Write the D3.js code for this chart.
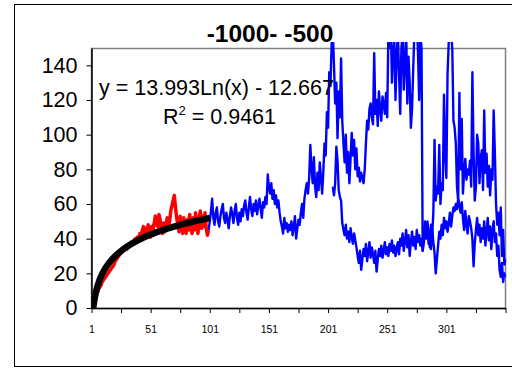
<!DOCTYPE html>
<html>
<head>
<meta charset="utf-8">
<script src="https://cdn.jsdelivr.net/npm/d3@7"></script>
<style>
  html, body { margin: 0; padding: 0; background: #fff; }
  svg { display: block; }
</style>
</head>
<body>
<svg id="chart" width="512" height="368"></svg>
<script>
// ---- data ----
const title = "-1000- -500";
const categoryCount = 351;
const xTickValues = d3.range(1, 352, 25);
const xLabelValues = [1, 51, 101, 151, 201, 251, 301];
const yTickValues = [0, 20, 40, 60, 80, 100, 120, 140];

// red series, categories 1..100
const redStart = 1;
const redValues = [
  0, 2, 4, 6, 8, 9, 11, 12, 13, 15,
  16, 17, 18, 19, 20, 21, 22, 23, 24, 25,
  27, 28, 29, 30, 31, 32, 33, 33, 34, 35,
  34, 36, 37, 36, 38, 37, 39, 40, 38, 41,
  40, 43, 41, 45, 47, 44, 42, 46, 48, 44,
  41, 47, 45, 49, 53, 50, 47, 54, 51, 45,
  43, 49, 44, 48, 52, 47, 50, 56, 59, 62,
  65, 58, 52, 48, 44, 53, 47, 43, 52, 46,
  43, 51, 45, 54, 47, 43, 52, 45, 55, 48,
  43, 51, 56, 46, 53, 47, 55, 46, 42, 45
];

// blue series, categories 100..351
const blueStart = 100;
const blueValues = [
  45, 50, 56, 63, 52, 48,
  55, 58, 50, 47, 53, 57, 60, 52, 49, 55, 51, 46, 53, 58, 54, 49, 56, 60, 52, 48, 55, 50, 57, 53,
  59, 62, 55, 51, 58, 64, 57, 53, 60, 56, 62, 54, 59, 63, 57, 52, 61, 58, 64, 60,
  77, 70, 66, 72, 63, 68, 60, 65, 58, 62, 55,
  50, 47, 43, 52, 46, 49, 44, 48,
  45, 50, 42, 47, 53, 40, 46, 51, 48,
  55, 60, 52, 63, 68, 72, 66, 75,
  94, 80, 72, 87, 70, 64, 78, 68, 84,
  75, 66, 79, 95, 88, 113, 104, 136, 128, 152, 160,
  140, 118, 130, 98, 125, 110, 144,
  108, 95, 84, 100, 78, 90, 72, 86, 101,
  88, 97, 80, 92, 76, 81, 73, 78, 75, 72, 80, 95,
  108, 103, 115, 118, 110, 106, 147, 112, 120,
  105, 125, 115, 108, 122, 118, 112, 124, 110,
  160, 150, 165, 130, 148, 155, 120, 145, 160, 135, 112, 150, 158, 126, 140, 162, 118, 145,
  130, 104, 115, 138, 160, 155, 165, 148, 120, 158, 150,
  33,
  38, 45, 40, 50, 43, 35, 48, 42, 55,
  97, 62, 70, 66, 94, 60, 72, 68, 123, 90,
  75, 135, 153, 160, 158, 150, 108, 104, 95, 70,
  62, 124, 80, 109, 66, 78, 86, 74, 80, 77,
  85, 70, 136, 90, 62, 70, 100, 95, 72, 86,
  91, 68, 114, 78, 89, 70, 82, 65, 80, 74,
  114, 90, 60, 48, 55, 42, 58, 30, 45, 25,
  28
];

// second blue series, categories 205..351
const blue2Start = 205;
const blue2Values = [
  70, 65, 72, 93, 85, 68, 64, 62, 49, 45,
  42, 48, 40, 44, 38, 46, 41, 37, 43, 39,
  35, 30, 26, 33, 22, 28, 34, 30, 37, 27,
  32, 38, 29, 35, 31, 26, 33, 21, 28, 34,
  30, 36, 29, 33, 38, 31, 35, 30, 37, 33,
  39, 32, 36, 30, 34, 38, 31, 40, 36, 43,
  33, 39, 45, 35, 42, 30, 38, 44, 36, 41,
  34, 45, 38, 42, 36, 40, 33, 44, 50, 41,
  47, 37, 43, 34, 46, 38, 32, 20, 28, 36,
  44, 40, 48, 42, 52, 46, 50, 44, 49, 55,
  47, 53, 58, 56, 60, 57, 63, 59, 55, 61,
  52, 45, 56, 48, 43, 53, 50, 46, 40, 24,
  37, 45, 52, 42, 48, 38, 46, 40, 50, 36,
  44, 52, 39, 47, 34, 45, 50, 38, 43, 30,
  36, 22, 18, 26, 15, 20, 18
];

// logarithmic trendline fitted to the red series
const trendA = 13.993;
const trendB = -12.667;
const trendEnd = 101;
const equationText = "y = 13.993Ln(x) - 12.667";
const r2Value = "0.9461";

// ---- layout ----
const svg = d3.select("#chart");
const plot = { left: 91.5, right: 505.5, top: 48, bottom: 308 };
const font = "'Liberation Sans', Arial, sans-serif";

const x = d3.scaleLinear().domain([1, categoryCount]).range([plot.left, plot.right]);
const y = d3.scaleLinear().domain([0, 150]).range([plot.bottom, plot.top]);

// outer chart frame
svg.append("rect")
  .attr("x", 14.5).attr("y", 4.5)
  .attr("width", 520).attr("height", 362)
  .attr("fill", "#fff").attr("stroke", "#000").attr("stroke-width", 1);

// plot area border
svg.append("rect")
  .attr("x", plot.left).attr("y", plot.top + 0.5)
  .attr("width", plot.right - plot.left).attr("height", plot.bottom - plot.top)
  .attr("fill", "none").attr("stroke", "#808080").attr("stroke-width", 1.5);

const defs = svg.append("defs");
defs.append("clipPath").attr("id", "plotClip")
  .append("rect")
  .attr("x", plot.left).attr("y", 42)
  .attr("width", plot.right - plot.left + 1).attr("height", plot.bottom - 42);
defs.append("clipPath").attr("id", "trendClip")
  .append("rect")
  .attr("x", plot.left).attr("y", plot.top)
  .attr("width", plot.right - plot.left).attr("height", plot.bottom - plot.top);

const toPoints = (start, vals) => vals.map((v, i) => [start + i, v]);
const line = d3.line().x(d => x(d[0])).y(d => y(d[1]));

const g = svg.append("g").attr("clip-path", "url(#plotClip)");

g.append("path")
  .datum(toPoints(blueStart, blueValues))
  .attr("d", line).attr("fill", "none")
  .attr("stroke", "#0000ff").attr("stroke-width", 2.4).attr("stroke-linejoin", "round");

g.append("path")
  .datum(toPoints(blue2Start, blue2Values))
  .attr("d", line).attr("fill", "none")
  .attr("stroke", "#0000ff").attr("stroke-width", 2.4).attr("stroke-linejoin", "round");

g.append("path")
  .datum(toPoints(redStart, redValues))
  .attr("d", line).attr("fill", "none")
  .attr("stroke", "#ff0000").attr("stroke-width", 3.5).attr("stroke-linejoin", "round");

const trendPts = d3.range(1, trendEnd + 0.001, 0.5).map(c => [c, trendA * Math.log(c) + trendB]);
svg.append("path")
  .datum(trendPts)
  .attr("clip-path", "url(#trendClip)")
  .attr("d", line).attr("fill", "none")
  .attr("stroke", "#000").attr("stroke-width", 6.5).attr("stroke-linejoin", "round");

// axes
const yAxis = svg.append("g")
  .attr("transform", `translate(${plot.left},0)`)
  .call(d3.axisLeft(y).tickValues(yTickValues).tickSize(5).tickPadding(9).tickSizeOuter(0));
yAxis.select(".domain").attr("stroke", "#000").attr("stroke-width", 1.5);
yAxis.selectAll(".tick line").attr("stroke", "#000");
yAxis.selectAll("text").attr("font-family", font).attr("font-size", 21.5).attr("fill", "#000");

const xAxis = svg.append("g")
  .attr("transform", `translate(0,${plot.bottom})`)
  .call(d3.axisBottom(x).tickValues(xTickValues).tickSize(5).tickPadding(13).tickSizeOuter(0)
    .tickFormat(d => xLabelValues.includes(d) ? String(d) : ""));
xAxis.select(".domain").attr("stroke", "#000").attr("stroke-width", 1.5);
xAxis.selectAll(".tick line").attr("stroke", "#000");
xAxis.selectAll("text").attr("font-family", font).attr("font-size", 10.5).attr("fill", "#000");

// title
svg.append("text")
  .attr("x", 270).attr("y", 42)
  .attr("text-anchor", "middle")
  .attr("font-family", font).attr("font-size", 24.5).attr("font-weight", "bold")
  .text(title);

// trendline equation
svg.append("text")
  .attr("x", 99).attr("y", 95)
  .attr("font-family", font).attr("font-size", 21.5)
  .text(equationText);

const r2 = svg.append("text")
  .attr("x", 163).attr("y", 124)
  .attr("font-family", font).attr("font-size", 21.5);
r2.append("tspan").text("R");
r2.append("tspan").attr("font-size", 13).attr("dy", -9).text("2");
r2.append("tspan").attr("dy", 9).text(" = " + r2Value);
</script>
</body>
</html>
